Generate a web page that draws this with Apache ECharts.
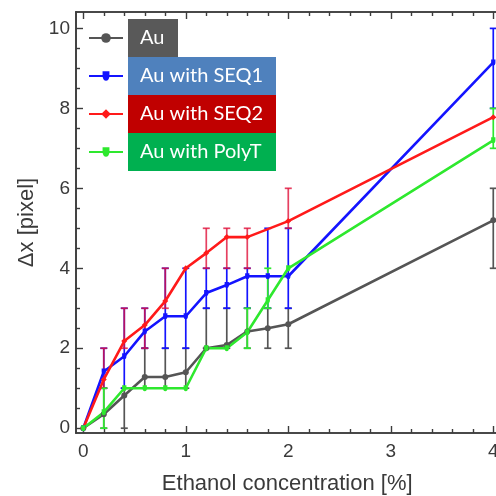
<!DOCTYPE html>
<html>
<head>
<meta charset="utf-8">
<script src="https://cdn.jsdelivr.net/npm/echarts@6/dist/echarts.min.js"></script>
<style>
  html, body { margin: 0; padding: 0; background: #fff; }
  #container { width: 496px; height: 496px; }
</style>
</head>
<body>
<div id="container"></div>
<script>
// ethanol concentration (%) shared by every series
const concentrations = [0, 0.2, 0.4, 0.6, 0.8, 1.0, 1.2, 1.4, 1.6, 1.8, 2.0, 4.0]

const seriesNames = ['Au', 'Au with SEQ1', 'Au with SEQ2', 'Au with PolyT']

// mean shift, null = no point at that concentration
const auValues    = [0, 0.35, 0.82, 1.28, 1.28, 1.4, 2.0, 2.08, 2.42, 2.5, 2.6, 5.2]
const seq1Values  = [0, 1.42, 1.8, 2.42, 2.8, 2.8, 3.38, 3.58, 3.8, 3.8, 3.8, 9.15]
const seq2Values  = [0, 1.22, 2.18, 2.58, 3.18, 4.0, 4.38, 4.78, 4.78, null, 5.18, 7.78]
const polyTValues = [0, 0.4, 1.0, 1.0, 1.0, 1.0, 2.0, 2.0, 2.4, 3.2, 4.0, 7.2]

// error bar [low, high], null = no bar
const auErr    = [null, [0, 1], [0, 1], [1, 2], [1, 2], [1, 2], [2, 3], [2, 3], [2, 3], [2, 3], [2, 3], [4, 6]]
const seq1Err  = [null, [1, 2], [1, 3], [2, 3], [2, 4], [2, 4], [3, 4], [3, 4], [3, 4], [3, 5], [3, 5], [8, 10]]
const seq2Err  = [null, [1, 2], [2, 3], [2, 3], [3, 4], null, [4, 5], [4, 5], [4, 5], null, [5, 6], null]
const polyTErr = [null, [0, 1], null, null, null, null, null, null, [2, 3], [3, 4], null, [7, 8]]

// axis ticks
const xMajorTicks = [0, 1, 2, 3, 4]
const yMajorTicks = [0, 2, 4, 6, 8, 10]
const xMinorTicks = []
for (let i = 0; i <= 20; i++) {
  let v = Math.round(i * 2) / 10
  if (xMajorTicks.indexOf(v) < 0) xMinorTicks.push(v)
}
const yMinorTicks = []
for (let i = 0; i <= 20; i++) {
  let v = i / 2
  if (yMajorTicks.indexOf(v) < 0) yMinorTicks.push(v)
}

const lineColors = ['#555555', '#1414ff', '#ff1a1a', '#2ee82e']
const boxColors = ['#595959', '#4f81bd', '#c00000', '#00b050']
const boxWidths = [26, 124, 124, 124]

const uSymbol = 'path://M0,0 L0,5 A5,5 0 0 0 10,5 L10,0 M-2,5 L12,5'
const symbols = ['circle', uSymbol, 'diamond', uSymbol]

const frameColor = '#3c3c3c'

function lineData(values) {
  return concentrations.map(function(x, i) { return [x, values[i]] })
}

function errorBars(color, ranges, opacity) {
  let rows = []
  ranges.forEach(function(r, i) {
    if (r) rows.push([concentrations[i], r[0], r[1]])
  })
  return {
    type: 'custom',
    data: rows,
    encode: { x: 0, y: [1, 2] },
    silent: true,
    renderItem: function(params, api) {
      let lo = api.coord([api.value(0), api.value(1)])
      let hi = api.coord([api.value(0), api.value(2)])
      let cap = 3.5
      let st = function() { return { stroke: color, lineWidth: 1.7, opacity: opacity } }
      return {
        type: 'group',
        children: [
          { type: 'line', shape: { x1: lo[0], y1: lo[1], x2: hi[0], y2: hi[1] }, style: st() },
          { type: 'line', shape: { x1: lo[0] - cap, y1: lo[1], x2: lo[0] + cap, y2: lo[1] }, style: st() },
          { type: 'line', shape: { x1: hi[0] - cap, y1: hi[1], x2: hi[0] + cap, y2: hi[1] }, style: st() }
        ]
      }
    }
  }
}

function lineSeries(idx, values) {
  return {
    name: seriesNames[idx],
    type: 'line',
    data: lineData(values),
    connectNulls: true,
    symbol: symbols[idx],
    symbolSize: 6,
    showAllSymbol: true,
    color: lineColors[idx],
    lineStyle: { color: lineColors[idx], width: 2.6 },
    itemStyle: { color: lineColors[idx] },
    emphasis: { disabled: true }
  }
}

function xAxisDef(position, ticks, len, withLabels) {
  return {
    type: 'value',
    position: position,
    min: -0.071,
    max: 4.05,
    splitLine: { show: false },
    axisLine: { show: true, onZero: false, lineStyle: { color: frameColor, width: 1.6 } },
    axisTick: { show: true, inside: true, length: len, customValues: ticks, lineStyle: { color: frameColor, width: 1.4 } },
    axisLabel: withLabels ? {
      show: true, customValues: xMajorTicks, margin: 9,
      color: '#3a3a3a', fontSize: 19, fontFamily: 'Liberation Sans'
    } : { show: false },
    name: withLabels ? 'Ethanol concentration [%]' : '',
    nameLocation: 'middle',
    nameGap: 40,
    nameTextStyle: { color: '#3a3a3a', fontSize: 22, fontFamily: 'Liberation Sans' }
  }
}

function yAxisDef(ticks, len, withLabels) {
  return {
    type: 'value',
    position: 'left',
    min: -0.12,
    max: 10.41,
    splitLine: { show: false },
    axisLine: { show: true, onZero: false, lineStyle: { color: frameColor, width: 1.6 } },
    axisTick: { show: true, inside: true, length: len, customValues: ticks, lineStyle: { color: frameColor, width: 1.4 } },
    axisLabel: withLabels ? {
      show: true, customValues: yMajorTicks, margin: 6,
      color: '#3a3a3a', fontSize: 19, fontFamily: 'Liberation Sans'
    } : { show: false },
    name: withLabels ? 'Δx [pixel]' : '',
    nameLocation: 'middle',
    nameGap: 36,
    nameTextStyle: { color: '#3a3a3a', fontSize: 22, fontFamily: 'Liberation Sans' }
  }
}

let chartDom = document.getElementById('container')
let myChart = echarts.init(chartDom, null, { renderer: 'canvas' })

let option = {
  animation: false,
  backgroundColor: '#ffffff',
  grid: {
    left: 76,
    top: 12,
    right: -2.4,
    bottom: 63,
    containLabel: false,
    outerBoundsMode: 'none'
  },
  legend: {
    orient: 'vertical',
    left: 83,
    top: 14,
    itemGap: 0,
    itemWidth: 34,
    itemHeight: 12,
    selectedMode: false,
    data: seriesNames.map(function(n, i) {
      return {
        name: n,
        textStyle: {
          color: '#ffffff',
          fontSize: 20,
          fontFamily: 'Lato',
          lineHeight: 22,
          backgroundColor: boxColors[i],
          padding: [8, 12, 8, 12],
          width: boxWidths[i]
        }
      }
    })
  },
  // 4 x axes: bottom major/minor, top major/minor
  xAxis: [
    xAxisDef('bottom', xMajorTicks, 7, true),
    xAxisDef('bottom', xMinorTicks, 4, false),
    xAxisDef('top', xMajorTicks, 7, false),
    xAxisDef('top', xMinorTicks, 4, false)
  ],
  yAxis: [
    yAxisDef(yMajorTicks, 7, true),
    yAxisDef(yMinorTicks, 4, false)
  ],
  series: [
    errorBars(lineColors[0], auErr, 1),
    lineSeries(0, auValues),
    errorBars(lineColors[1], seq1Err, 1),
    lineSeries(1, seq1Values),
    errorBars('#e0103a', seq2Err, 0.8),
    lineSeries(2, seq2Values),
    errorBars(lineColors[3], polyTErr, 1),
    lineSeries(3, polyTValues)
  ]
}

option && myChart.setOption(option)
</script>
</body>
</html>
